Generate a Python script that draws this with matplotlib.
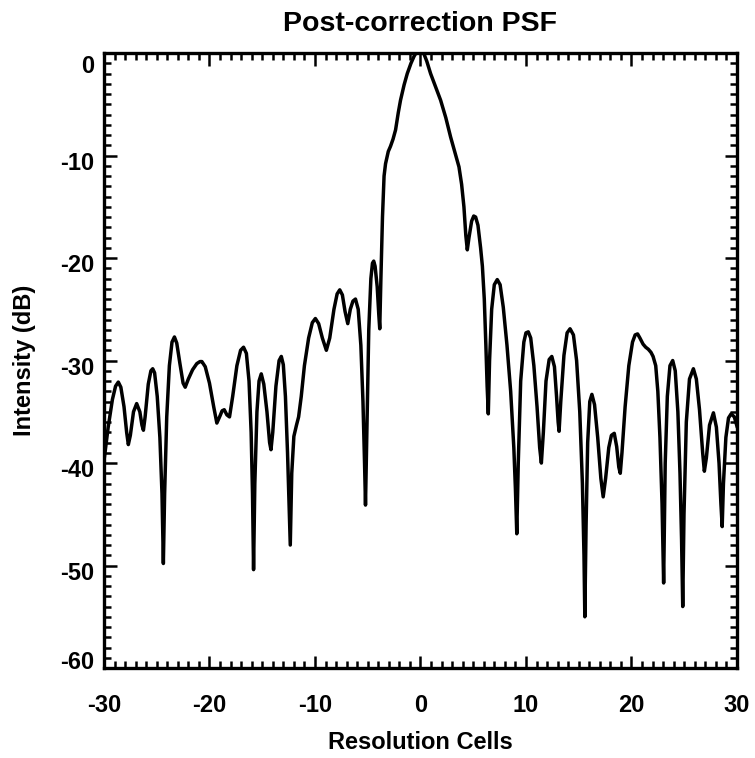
import matplotlib
matplotlib.use('Agg')
import matplotlib.pyplot as plt
import matplotlib.transforms as mtransforms
from matplotlib.ticker import MultipleLocator

# values (resolution cell, dB)
x_cells = [
    -30.0, -29.6, -29.2, -28.9, -28.64, -28.4, -28.1, -27.85, -27.69,
    -27.5, -27.2, -26.9, -26.6, -26.4, -26.26, -26.1, -25.8, -25.55, -25.38,
    -25.2, -24.95, -24.7, -24.5, -24.37, -24.25, -24.05, -23.8, -23.55, -23.32,
    -23.1, -22.8, -22.5, -22.3, -22.0, -21.6, -21.2, -20.9, -20.72,
    -20.4, -20.0, -19.6, -19.3, -19.0, -18.8, -18.6, -18.35, -18.1,
    -17.8, -17.4, -17.05, -16.77, -16.5, -16.25, -16.05, -15.92, -15.82,
    -15.7, -15.5, -15.3, -15.09, -14.85, -14.55, -14.3, -14.17,
    -14.0, -13.7, -13.4, -13.19, -13.0, -12.8, -12.6, -12.45, -12.34,
    -12.2, -12.0, -11.75, -11.55, -11.3, -11.0, -10.6, -10.25, -9.96,
    -9.65, -9.3, -8.92, -8.6, -8.2, -7.9, -7.65, -7.4, -7.15, -6.89,
    -6.65, -6.4, -6.16, -5.9, -5.65, -5.45, -5.3, -5.21,
    -5.1, -4.9, -4.7, -4.55, -4.43, -4.3, -4.1, -3.95, -3.86,
    -3.75, -3.6, -3.45, -3.31, -3.05, -2.84, -2.6, -2.36, -2.1, -1.89,
    -1.55, -1.25, -0.9, -0.6, -0.3, 0.0, 0.3, 0.6, 0.96, 1.4, 1.91,
    2.4, 2.86, 3.3, 3.65, 3.9, 4.12, 4.3, 4.44,
    4.6, 4.85, 5.05, 5.23, 5.45, 5.7, 5.87, 6.05, 6.2, 6.32, 6.43,
    6.55, 6.75, 7.0, 7.28, 7.55, 7.85, 8.2, 8.55, 8.85, 9.0, 9.13,
    9.27, 9.5, 9.8, 10.0, 10.22, 10.45, 10.75, 11.05, 11.3, 11.46,
    11.65, 11.9, 12.2, 12.45, 12.7, 12.9, 13.05, 13.14,
    13.3, 13.6, 13.9, 14.18, 14.5, 14.8, 15.1, 15.35, 15.5, 15.58,
    15.7, 15.85, 16.05, 16.25, 16.5, 16.8, 17.1, 17.32,
    17.55, 17.85, 18.1, 18.37, 18.6, 18.8, 18.94,
    19.1, 19.4, 19.75, 20.1, 20.35, 20.58, 20.8, 21.1, 21.35, 21.6, 21.85,
    22.05, 22.3, 22.5, 22.7, 22.9, 23.05,
    23.2, 23.4, 23.65, 23.91, 24.15, 24.4, 24.6, 24.75, 24.86,
    24.98, 25.2, 25.5, 25.87, 26.15, 26.45, 26.75, 26.91,
    27.1, 27.4, 27.77, 28.05, 28.3, 28.48, 28.6,
    28.72, 28.95, 29.2, 29.45, 29.75, 30.0,
]
intensity_db = [
    -39.8, -36.5, -33.8, -32.5, -32.1, -32.6, -34.5, -37.0, -38.2,
    -37.3, -35.0, -34.2, -35.0, -36.3, -36.8, -35.5, -32.3, -31.0, -30.8,
    -31.2, -33.5, -37.5, -43.0, -49.8, -43.0, -35.5, -30.5, -28.2, -27.7,
    -28.3, -30.3, -32.2, -32.6, -31.8, -30.9, -30.3, -30.1, -30.1,
    -30.6, -32.2, -34.5, -36.1, -35.4, -34.9, -34.8, -35.3, -35.5,
    -33.5, -30.5, -29.0, -28.7, -29.3, -32.0, -37.0, -43.0, -50.4,
    -42.0, -35.0, -32.0, -31.3, -32.3, -35.0, -38.0, -38.7,
    -37.0, -32.5, -30.0, -29.6, -30.4, -33.5, -39.0, -44.0, -48.0,
    -41.0, -37.4, -36.3, -35.5, -33.5, -30.5, -27.8, -26.3, -25.9,
    -26.4, -27.8, -29.0, -27.8, -25.0, -23.5, -23.1, -23.6, -25.2, -26.4,
    -25.0, -24.2, -24.0, -25.0, -28.5, -34.0, -40.0, -44.1,
    -38.0, -27.0, -22.0, -20.5, -20.3, -20.8, -22.8, -25.5, -26.9,
    -22.0, -16.0, -12.0, -10.8, -9.6, -9.1, -8.4, -7.5, -5.8, -4.6,
    -3.1, -2.0, -1.0, -0.3, 0.2, 0.4, 0.0, -0.8, -2.0, -3.2, -4.6,
    -6.3, -8.2, -9.8, -11.1, -12.8, -15.0, -17.8, -19.2,
    -18.0, -16.4, -15.9, -16.0, -16.8, -19.0, -20.8, -24.0, -28.5, -32.5, -35.2,
    -30.0, -25.0, -22.6, -22.1, -22.6, -24.8, -28.5, -33.0, -38.5, -42.5, -46.9,
    -40.0, -32.0, -28.2, -27.3, -27.2, -27.8, -30.5, -34.5, -38.5, -40.0,
    -37.0, -32.0, -29.9, -29.6, -30.6, -33.5, -36.0, -36.9,
    -34.0, -29.5, -27.3, -26.9, -27.5, -30.0, -35.0, -42.0, -49.0, -55.0,
    -46.0, -38.0, -34.0, -33.3, -34.3, -37.5, -41.5, -43.3,
    -41.5, -38.5, -37.3, -37.1, -38.4, -40.4, -41.0,
    -39.0, -34.5, -30.5, -28.2, -27.5, -27.4, -27.8, -28.4, -28.7, -28.9, -29.2,
    -29.6, -30.5, -33.0, -37.5, -44.0, -51.7,
    -40.0, -33.5, -30.5, -30.0, -31.0, -35.0, -41.0, -47.5, -54.0,
    -45.0, -36.0, -31.8, -30.8, -31.8, -34.8, -39.0, -40.8,
    -39.5, -36.3, -35.1, -36.5, -40.0, -44.0, -46.2,
    -42.0, -37.5, -35.6, -35.2, -35.5, -36.4,
]

x_ticks = [-30, -20, -10, 0, 10, 20, 30]
y_ticks = [0, -10, -20, -30, -40, -50, -60]

plt.rcParams['font.family'] = ['Liberation Sans', 'DejaVu Sans']
plt.rcParams['font.weight'] = 'bold'
plt.rcParams['axes.unicode_minus'] = False

fig = plt.figure(figsize=(7.55, 7.58), dpi=100)
ax = fig.add_axes([0.1377, 0.1187, 0.8384, 0.8113])

ax.plot(x_cells, intensity_db, color='black', linewidth=2.5)

ax.set_xlim(-30, 30)
ax.set_ylim(-60, 0)
ax.set_xticks(x_ticks)
ax.set_yticks(y_ticks)
ax.xaxis.set_minor_locator(MultipleLocator(1))
ax.yaxis.set_minor_locator(MultipleLocator(1))

ax.tick_params(which='both', direction='in', top=True, right=True, width=1.8)
ax.tick_params(which='major', length=9, labelsize=17)
ax.tick_params(which='minor', length=4.8)
ax.tick_params(axis='x', pad=19)
ax.tick_params(axis='y', pad=7)
for s in ax.spines.values():
    s.set_linewidth(2.4)

# IDL-style placement of the y labels
shifts = {0: -11, -60: 8}
for val, lab in zip(y_ticks, ax.get_yticklabels()):
    dy = shifts.get(val, -5) / 100.0
    lab.set_transform(lab.get_transform() + mtransforms.ScaledTranslation(0, dy, fig.dpi_scale_trans))

ax.set_xlabel('Resolution Cells', fontsize=17, fontweight='bold', labelpad=10)
ax.set_ylabel('Intensity (dB)', fontsize=17, fontweight='bold', labelpad=17)
ax.set_title('Post-correction PSF', fontsize=20.5, fontweight='bold', pad=16)

fig.savefig('out.png', dpi=100)
